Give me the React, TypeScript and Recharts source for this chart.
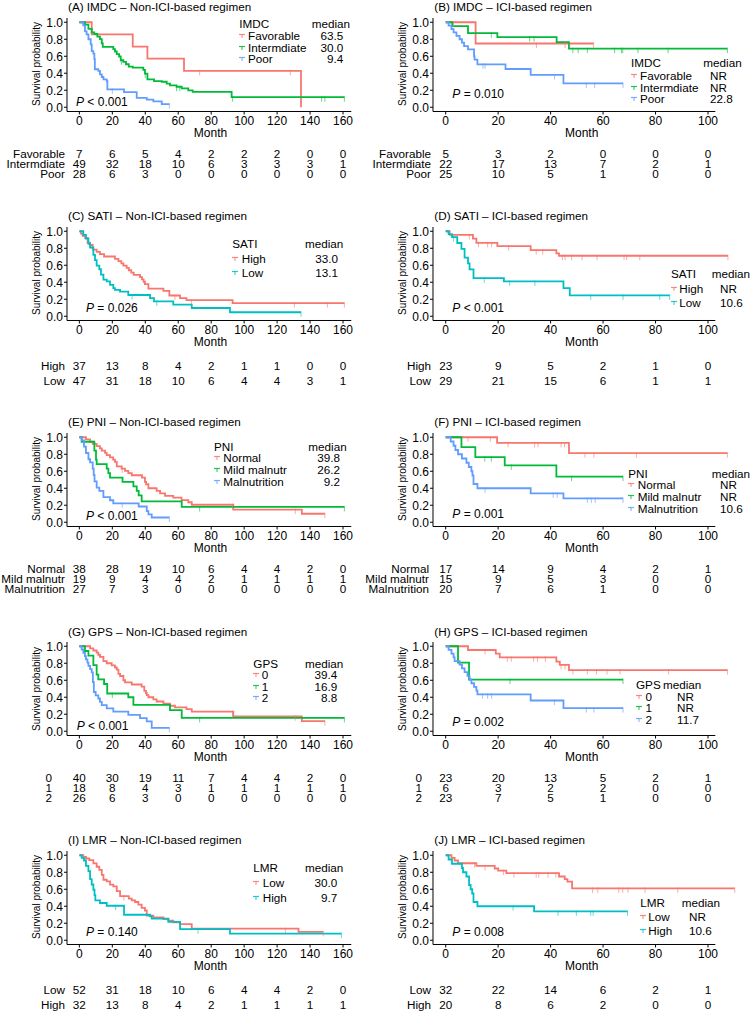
import React from "react";
import { ComposedChart, Line, Scatter, XAxis, YAxis, ReferenceLine } from "recharts";

type Pt = [number, number];

const RED = "#F8766D";
const GREEN = "#00BA38";
const BLUE = "#619CFF";
const CYAN = "#00BFC4";
const FONT = '"Liberation Sans", Arial, sans-serif';

// ---------- group names ----------
const imdcGroups = ["Favorable", "Intermdiate", "Poor"];
const satiGroups = ["High", "Low"];
const pniGroups = ["Normal", "Mild malnutr", "Malnutrition"];
const gpsGroups = ["0", "1", "2"];
const lmrGroups = ["Low", "High"];

const nonIciTimes = [0, 20, 40, 60, 80, 100, 120, 140, 160];
const iciTimes = [0, 20, 40, 60, 80, 100];
const survTicks = [0, 0.2, 0.4, 0.6, 0.8, 1.0];

// ---------- (A) IMDC non-ICI ----------
const aFav: Pt[] = [[0, 1], [7.5, 0.857], [32.4, 0.714], [41.3, 0.571], [63.5, 0.429], [134.5, 0]];
const aInt: Pt[] = [[0, 1], [3.4, 0.972], [5.5, 0.921], [7.5, 0.881], [9.1, 0.862], [10.9, 0.83], [12.5, 0.802], [13.6, 0.751], [14.2, 0.711], [20.6, 0.684], [21.6, 0.656], [22.7, 0.625], [24.1, 0.597], [25.1, 0.553], [26.7, 0.534], [28.3, 0.506], [30, 0.478], [32.4, 0.466], [38.8, 0.439], [39.8, 0.395], [41.3, 0.328], [45.3, 0.308], [50, 0.3], [53, 0.277], [55, 0.257], [59, 0.241], [62.1, 0.221], [66.1, 0.198], [68.8, 0.182], [92.4, 0.119], [160.8, 0.119]];
const aPoor: Pt[] = [[0, 1], [2.4, 0.964], [3.4, 0.893], [4.4, 0.857], [5.5, 0.8], [6.9, 0.74], [7.5, 0.66], [8.5, 0.63], [9.1, 0.565], [9.4, 0.447], [11.5, 0.427], [12.5, 0.387], [13.6, 0.356], [14.6, 0.328], [16.6, 0.308], [17, 0.21], [27.1, 0.178], [34.8, 0.11], [40.9, 0.09], [44.9, 0.07], [50, 0.036], [54.6, 0.036]];
const aFavCens = [73, 128];
const aIntCens = [25.5, 40, 59, 61, 93, 147, 149, 160.8];
const aPoorCens = [20, 54.6];
const aMedians = ["63.5", "30.0", "9.4"];
const aRisk = [[7, 6, 5, 4, 2, 2, 2, 0, 0], [49, 32, 18, 10, 6, 3, 3, 3, 1], [28, 6, 3, 0, 0, 0, 0, 0, 0]];

// ---------- (B) IMDC ICI ----------
const bFav: Pt[] = [[0, 1], [11.4, 0.75], [56.4, 0.75]];
const bInt: Pt[] = [[0, 1], [2.5, 0.955], [8.5, 0.872], [19.7, 0.825], [42.3, 0.767], [47, 0.689], [107.4, 0.689]];
const bPoor: Pt[] = [[0, 1], [1.1, 0.96], [2.2, 0.92], [3, 0.88], [4.1, 0.84], [5.3, 0.8], [6.2, 0.76], [7, 0.72], [8.5, 0.68], [10.8, 0.6], [11, 0.56], [12.1, 0.505], [22.8, 0.45], [32.4, 0.38], [44.9, 0.28], [67.6, 0.28]];
const bFavCens = [3, 34.6, 45.5, 47.3, 56.4];
const bIntCens = [17.4, 32, 33.7, 48.5, 50.5, 54, 64.4, 67, 67.5, 73.3, 84.8, 107.4];
const bPoorCens = [14.2, 15, 41.5, 53.6, 56.8, 67.6];
const bMedians = ["NR", "NR", "22.8"];
const bRisk = [[5, 3, 2, 0, 0, 0], [22, 17, 13, 7, 2, 1], [25, 10, 5, 1, 0, 0]];

// ---------- (C) SATI non-ICI ----------
const cHigh: Pt[] = [[0, 1], [1, 0.973], [2, 0.946], [3.5, 0.919], [5, 0.865], [6.5, 0.838], [8.1, 0.784], [10.5, 0.757], [12.5, 0.73], [15, 0.703], [21.6, 0.676], [23.7, 0.649], [25.5, 0.622], [26.7, 0.595], [28.7, 0.568], [30, 0.541], [31.5, 0.514], [33, 0.487], [36.8, 0.46], [38, 0.433], [39, 0.406], [39.8, 0.379], [41.9, 0.325], [51, 0.298], [54.6, 0.244], [61.1, 0.214], [65, 0.19], [93, 0.155], [160.8, 0.155]];
const cLow: Pt[] = [[0, 1], [2.4, 0.957], [4, 0.915], [5.5, 0.851], [6.5, 0.809], [8.5, 0.723], [9.5, 0.66], [10.5, 0.596], [12.1, 0.553], [13.1, 0.489], [14.6, 0.43], [16.6, 0.41], [18.6, 0.37], [20.6, 0.33], [21.6, 0.31], [24.7, 0.29], [29.7, 0.25], [42.9, 0.214], [45.3, 0.175], [57, 0.136], [68.2, 0.097], [91.4, 0.047], [134.5, 0.047]];
const cHighCens = [58, 68, 130.5, 150.5, 160.8];
const cLowCens = [32, 47, 134.5];
const cMedians = ["33.0", "13.1"];
const cRisk = [[37, 13, 8, 4, 2, 1, 1, 0, 0], [47, 31, 18, 10, 6, 4, 4, 3, 1]];

// ---------- (D) SATI ICI ----------
const dHigh: Pt[] = [[0, 1], [1.5, 0.957], [10.4, 0.913], [11.7, 0.864], [19.7, 0.825], [32.4, 0.778], [42.2, 0.74], [43.2, 0.712], [107.6, 0.712]];
const dLow: Pt[] = [[0, 1], [1.1, 0.966], [2.4, 0.931], [4.4, 0.862], [6, 0.793], [7.2, 0.69], [8.5, 0.621], [9.1, 0.552], [10.6, 0.448], [22.2, 0.41], [44.9, 0.33], [47.3, 0.245], [85.4, 0.245]];
const dHighCens = [9, 12.5, 16, 17.5, 24, 34.5, 37, 44.5, 45.5, 48, 52, 57.7, 68, 69, 74, 107.6];
const dLowCens = [3, 14.7, 24.4, 34, 55.3, 67.6, 81.6, 85.4];
const dMedians = ["NR", "10.6"];
const dRisk = [[23, 9, 5, 2, 1, 0], [29, 21, 15, 6, 1, 1]];

// ---------- (E) PNI non-ICI ----------
const eNormal: Pt[] = [[0, 1], [4, 0.974], [6.5, 0.947], [8.1, 0.921], [10.5, 0.895], [12.5, 0.868], [13.6, 0.842], [15.6, 0.816], [16.6, 0.789], [18.6, 0.763], [20.5, 0.737], [21.6, 0.71], [22.7, 0.658], [25.7, 0.632], [27.7, 0.605], [29.7, 0.579], [31.8, 0.553], [38, 0.526], [39.8, 0.474], [40.5, 0.447], [41.9, 0.4], [46.9, 0.37], [49, 0.34], [52, 0.31], [57, 0.29], [62, 0.26], [66.1, 0.235], [68.2, 0.206], [93.4, 0.148], [135, 0.1], [149, 0.1]];
const eMild: Pt[] = [[0, 1], [1.4, 0.947], [9.1, 0.842], [10.1, 0.737], [10.5, 0.684], [16.6, 0.632], [17.6, 0.579], [18.6, 0.526], [26.2, 0.474], [32.8, 0.421], [34.8, 0.368], [36, 0.316], [37.8, 0.246], [62.1, 0.18], [160.8, 0.18]];
const eMal: Pt[] = [[0, 1], [1.4, 0.963], [2.8, 0.889], [4, 0.815], [5.5, 0.741], [6.5, 0.704], [8.1, 0.63], [8.7, 0.556], [9.2, 0.481], [10.5, 0.407], [12.1, 0.37], [14.6, 0.296], [18.6, 0.259], [20.6, 0.222], [36, 0.185], [40.9, 0.13], [41.9, 0.093], [43.9, 0.056], [54.6, 0.056]];
const eNormalCens = [26, 93, 131, 149];
const eMildCens = [73, 160.8];
const eMalCens = [26, 54.6];
const eMedians = ["39.8", "26.2", "9.2"];
const eRisk = [[38, 28, 19, 10, 6, 4, 4, 2, 0], [19, 9, 4, 4, 2, 1, 1, 1, 1], [27, 7, 3, 0, 0, 0, 0, 0, 0]];

// ---------- (F) PNI ICI ----------
const fNormal: Pt[] = [[0, 1], [19.6, 0.934], [47, 0.813], [107.4, 0.813]];
const fMild: Pt[] = [[0, 1], [6, 0.883], [11.3, 0.767], [22.5, 0.669], [42.2, 0.537], [67.6, 0.537]];
const fMal: Pt[] = [[0, 1], [1.9, 0.95], [3, 0.9], [3.7, 0.85], [4.7, 0.8], [6.2, 0.75], [7.9, 0.7], [8.8, 0.65], [9.8, 0.6], [10.2, 0.55], [10.6, 0.45], [12.1, 0.4], [32.4, 0.34], [44.9, 0.28], [67.6, 0.28]];
const fNormalCens = [8.5, 17, 23.8, 33.9, 35.2, 44, 45.3, 53.1, 56.5, 72.7, 107.4];
const fMildCens = [14.9, 17.4, 25, 48, 67.6];
const fMalCens = [15, 41, 42.5, 54, 55.5, 57, 67.6];
const fMedians = ["NR", "NR", "10.6"];
const fRisk = [[17, 14, 9, 4, 2, 1], [15, 9, 5, 3, 0, 0], [20, 7, 6, 1, 0, 0]];

// ---------- (G) GPS non-ICI ----------
const gZero: Pt[] = [[0, 1], [6.5, 0.975], [8.5, 0.95], [10.5, 0.925], [11.5, 0.9], [12.5, 0.875], [14.6, 0.825], [16.6, 0.8], [19.6, 0.775], [21.6, 0.75], [22.7, 0.725], [23.7, 0.675], [24.7, 0.65], [26.7, 0.6], [27.7, 0.575], [31.8, 0.55], [37.8, 0.525], [39.4, 0.475], [40.4, 0.45], [40.9, 0.425], [41.9, 0.4], [44.9, 0.375], [46.9, 0.35], [51, 0.325], [55, 0.3], [58, 0.28], [65, 0.26], [68.2, 0.23], [93.4, 0.176], [135, 0.118], [149, 0.118]];
const gOne: Pt[] = [[0, 1], [3.4, 0.944], [5.5, 0.889], [8.5, 0.778], [10.5, 0.667], [11.5, 0.611], [15, 0.556], [16.9, 0.444], [29.7, 0.4], [32.8, 0.311], [55, 0.249], [62.1, 0.157], [160.8, 0.157]];
const gTwo: Pt[] = [[0, 1], [1.4, 0.962], [2.4, 0.923], [3.4, 0.885], [4, 0.846], [4.9, 0.808], [5.5, 0.769], [6.5, 0.731], [7.5, 0.692], [8.2, 0.577], [8.8, 0.462], [9.9, 0.423], [11.5, 0.385], [12.5, 0.346], [13.6, 0.308], [16.6, 0.269], [20.6, 0.231], [29.7, 0.192], [36.8, 0.154], [40.9, 0.115], [43.9, 0.04], [54.6, 0.04]];
const gZeroCens = [93, 131, 149];
const gOneCens = [20, 73, 160.8];
const gTwoCens = [54.6];
const gMedians = ["39.4", "16.9", "8.8"];
const gRisk = [[40, 30, 19, 11, 7, 4, 4, 2, 0], [18, 8, 4, 3, 1, 1, 1, 1, 1], [26, 6, 3, 0, 0, 0, 0, 0, 0]];

// ---------- (H) GPS ICI ----------
const hZero: Pt[] = [[0, 1], [8.5, 0.956], [19.1, 0.913], [20.6, 0.87], [42.2, 0.82], [43.5, 0.78], [47, 0.72], [107.4, 0.72]];
const hOne: Pt[] = [[0, 1], [4.7, 0.808], [8.9, 0.608], [67.6, 0.608]];
const hTwo: Pt[] = [[0, 1], [1.1, 0.957], [2.2, 0.913], [3, 0.87], [3.4, 0.826], [5.3, 0.783], [6.2, 0.739], [7.2, 0.696], [8.3, 0.652], [9.1, 0.609], [9.8, 0.565], [10.8, 0.522], [11.7, 0.478], [12.1, 0.435], [32.4, 0.362], [44.9, 0.272], [67.6, 0.272]];
const hZeroCens = [15, 23.5, 25, 33.5, 35, 38, 44, 45.5, 48.5, 54, 57.5, 61.5, 66.5, 85, 107.4];
const hOneCens = [24.5, 67.6];
const hTwoCens = [14, 16, 17.5, 41.5, 53.6, 56.5, 67.6];
const hMedians = ["NR", "NR", "11.7"];
const hRisk = [[23, 20, 13, 5, 2, 1], [6, 3, 2, 2, 0, 0], [23, 7, 5, 1, 0, 0]];

// ---------- (I) LMR non-ICI ----------
const iLow: Pt[] = [[0, 1], [2.4, 0.981], [4, 0.962], [6, 0.942], [8.5, 0.904], [10.5, 0.865], [12.1, 0.827], [13.6, 0.769], [14.6, 0.712], [16.6, 0.692], [18.6, 0.654], [20.6, 0.635], [22.7, 0.577], [24.7, 0.519], [30, 0.49], [31.8, 0.47], [33.8, 0.45], [35.8, 0.42], [37.8, 0.38], [39.8, 0.35], [40.9, 0.29], [44.9, 0.27], [51, 0.25], [54, 0.23], [57, 0.21], [61, 0.19], [68.2, 0.137], [133, 0.098], [148, 0.098]];
const iHigh: Pt[] = [[0, 1], [1.4, 0.969], [2.8, 0.938], [4, 0.875], [5.5, 0.813], [6.5, 0.719], [7.5, 0.656], [8.5, 0.594], [9.2, 0.531], [9.7, 0.469], [12.5, 0.438], [16.6, 0.406], [27.1, 0.3], [42.9, 0.28], [43.9, 0.255], [54, 0.216], [61.1, 0.13], [91.4, 0.078], [159, 0.078]];
const iLowCens = [27, 125, 148];
const iHighCens = [22, 72, 159];
const iMedians = ["30.0", "9.7"];
const iRisk = [[52, 31, 18, 10, 6, 4, 4, 2, 0], [32, 13, 8, 4, 2, 1, 1, 1, 1]];

// ---------- (J) LMR ICI ----------
const jLow: Pt[] = [[0, 1], [2.2, 0.969], [3.4, 0.938], [4.7, 0.906], [11.7, 0.875], [18.7, 0.844], [20, 0.82], [23.1, 0.79], [43.2, 0.75], [45.4, 0.72], [46.4, 0.69], [48.2, 0.61], [110.2, 0.61]];
const jHigh: Pt[] = [[0, 1], [1.1, 0.95], [2.4, 0.9], [6.2, 0.85], [6.6, 0.8], [7.9, 0.75], [8.9, 0.65], [9.5, 0.6], [10.1, 0.55], [10.6, 0.45], [12.1, 0.4], [33.7, 0.34], [69.3, 0.34]];
const jLowCens = [11, 15, 22, 26, 34.5, 35.5, 39, 42, 56, 58, 66, 67.5, 69.5, 76, 88.5, 110.2];
const jHighCens = [25.7, 42.8, 49.8, 55.3, 56.2, 69.3];
const jMedians = ["NR", "10.6"];
const jRisk = [[32, 22, 14, 6, 2, 1], [20, 8, 6, 2, 0, 0]];

// ---------- layout ----------
const ROW_TOP = [17.5, 226.7, 432.7, 642.4, 850.7];
const PLOT_H = 93.5;
const AXW = 40;
const XAXH = 20;
const TOPPAD = 8;
const RISKPAD = 8;
const TITLE_FS = 11.7;
const LEG_FS = 11.7;
const RISK_FS = 11.7;

const LEFT = { plotLeft: 67, domain: [-7.5, 165], axisEnd: 165, ppm: 1.648, times: nonIciTimes, monthX: 210.5 };
const RIGHT = { plotLeft: 433.3, domain: [-4.84, 111], axisEnd: 102.8, ppm: 2.623, times: iciTimes, monthX: 581.7 };

type Anchor = "start" | "end" | "middle";
interface LegendCfg { keyX: number; headY: number; rows: number[]; labelX: number; med: [number, Anchor]; val: [number, Anchor]; }

const panels = [
  { title: "(A) IMDC – Non-ICI-based regimen", side: LEFT, row: 0, group: "IMDC", labels: imdcGroups, colors: [RED, GREEN, BLUE], curves: [aFav, aInt, aPoor], cens: [aFavCens, aIntCens, aPoorCens], medians: aMedians, p: "< 0.001", pPos: [76, 84.2], risk: aRisk, gap: 2,
    legend: { keyX: 239.3, headY: 6.5, rows: [18.2, 30.2, 41.8], labelX: 248, med: [350, "end"], val: [343.3, "end"] } },
  { title: "(B) IMDC – ICI-based regimen", side: RIGHT, row: 0, group: "IMDC", labels: imdcGroups, colors: [RED, GREEN, BLUE], curves: [bFav, bInt, bPoor], cens: [bFavCens, bIntCens, bPoorCens], medians: bMedians, p: "= 0.010", pPos: [452.3, 76.8], risk: bRisk, gap: 2,
    legend: { keyX: 631, headY: 45.8, rows: [58.5, 70.5, 81.8], labelX: 640, med: [741.7, "end"], val: [710, "start"] } },
  { title: "(C) SATI – Non-ICI-based regimen", side: LEFT, row: 1, group: "SATI", labels: satiGroups, colors: [RED, CYAN], curves: [cHigh, cLow], cens: [cHighCens, cLowCens], medians: cMedians, p: "= 0.026", pPos: [86, 81.6], risk: cRisk, gap: 2,
    legend: { keyX: 232.3, headY: 17.3, rows: [32.3, 46.6], labelX: 241.7, med: [343.3, "end"], val: [338, "end"] } },
  { title: "(D) SATI – ICI-based regimen", side: RIGHT, row: 1, group: "SATI", labels: satiGroups, colors: [RED, CYAN], curves: [dHigh, dLow], cens: [dHighCens, dLowCens], medians: dMedians, p: "< 0.001", pPos: [452.3, 81], risk: dRisk, gap: 2,
    legend: { keyX: 671, headY: 47.6, rows: [62.3, 76.6], labelX: 679.3, med: [750, "end"], val: [720, "start"] } },
  { title: "(E) PNI – Non-ICI-based regimen", side: LEFT, row: 2, group: "PNI", labels: pniGroups, colors: [RED, GREEN, BLUE], curves: [eNormal, eMild, eMal], cens: [eNormalCens, eMildCens, eMalCens], medians: eMedians, p: "< 0.001", pPos: [86, 83], risk: eRisk, gap: 2,
    legend: { keyX: 214, headY: 14.6, rows: [25.6, 37.6, 49.6], labelX: 223.3, med: [346.7, "end"], val: [340, "end"] } },
  { title: "(F) PNI – ICI-based regimen", side: RIGHT, row: 2, group: "PNI", labels: pniGroups, colors: [RED, GREEN, BLUE], curves: [fNormal, fMild, fMal], cens: [fNormalCens, fMildCens, fMalCens], medians: fMedians, p: "= 0.001", pPos: [452.3, 81.3], risk: fRisk, gap: 4,
    legend: { keyX: 628.3, headY: 41, rows: [52.3, 64, 76.3], labelX: 637.7, med: [750, "end"], val: [720, "start"] } },
  { title: "(G) GPS – Non-ICI-based regimen", side: LEFT, row: 3, group: "GPS", labels: gpsGroups, colors: [RED, GREEN, BLUE], curves: [gZero, gOne, gTwo], cens: [gZeroCens, gOneCens, gTwoCens], medians: gMedians, p: "< 0.001", pPos: [76.7, 83.6], risk: gRisk, gap: 15,
    legend: { keyX: 253.3, headY: 21.6, rows: [32.6, 44.3, 55.9], labelX: 261.7, med: [343.3, "end"], val: [337.3, "end"] } },
  { title: "(H) GPS – ICI-based regimen", side: RIGHT, row: 3, group: "GPS", labels: gpsGroups, colors: [RED, GREEN, BLUE], curves: [hZero, hOne, hTwo], cens: [hZeroCens, hOneCens, hTwoCens], medians: hMedians, p: "= 0.002", pPos: [452.3, 79.3], risk: hRisk, gap: 11,
    legend: { keyX: 636, headY: 42.6, rows: [54.3, 65.9, 77.6], labelX: 645.5, med: [663, "start"], val: [677, "start"] } },
  { title: "(I) LMR – Non-ICI-based regimen", side: LEFT, row: 4, group: "LMR", labels: lmrGroups, colors: [RED, CYAN], curves: [iLow, iHigh], cens: [iLowCens, iHighCens], medians: iMedians, p: "= 0.140", pPos: [86, 81], risk: iRisk, gap: 2,
    legend: { keyX: 253.3, headY: 17.6, rows: [32.6, 47], labelX: 262.7, med: [343.3, "end"], val: [337.3, "end"] } },
  { title: "(J) LMR – ICI-based regimen", side: RIGHT, row: 4, group: "LMR", labels: lmrGroups, colors: [RED, CYAN], curves: [jLow, jHigh], cens: [jLowCens, jHighCens], medians: jMedians, p: "= 0.008", pPos: [452.3, 81], risk: jRisk, gap: 2,
    legend: { keyX: 640.3, headY: 52, rows: [66, 80.3], labelX: 648.3, med: [720, "end"], val: [689, "start"] } },
];

// value of the step curve at time t (for placing censor ticks)
const survAt = (curve: Pt[], t: number) => {
  let s = curve[0][1];
  for (const [ct, cs] of curve) {
    if (ct <= t) s = cs;
    else break;
  }
  return s;
};

function Txt({ x, y, anchor = "start", size = LEG_FS, children }: { x: number; y: number; anchor?: Anchor; size?: number; children: React.ReactNode }) {
  const w = 300;
  const left = anchor === "start" ? x : anchor === "end" ? x - w : x - w / 2;
  return (
    <div
      style={{
        position: "absolute",
        left,
        top: y - 8,
        width: w,
        height: 16,
        lineHeight: "16px",
        fontSize: size,
        textAlign: anchor === "start" ? "left" : anchor === "end" ? "right" : "center",
        whiteSpace: "nowrap",
        color: "#000",
      }}
    >
      {children}
    </div>
  );
}

const censorShape = (color: string) => (props: any) => {
  const { cx, cy } = props;
  if (cx == null || cy == null) return <g />;
  return <line x1={cx} x2={cx} y1={cy - 1} y2={cy + 4.5} stroke={color} strokeOpacity={0.6} strokeWidth={1} />;
};

const riskShape = (props: any) => {
  const { cx, cy, payload } = props;
  if (cx == null || cy == null) return <g />;
  return (
    <text x={cx} y={cy} dy="0.36em" textAnchor="middle" fontSize={RISK_FS} fill="#000">
      {payload.n}
    </text>
  );
};

function Panel({ cfg }: { cfg: (typeof panels)[number] }) {
  const { side } = cfg;
  const P = ROW_TOP[cfg.row];
  const plotW = (side.domain[1] - side.domain[0]) * side.ppm;
  const lg = cfg.legend as LegendCfg;
  const nRows = cfg.risk.length;
  const riskTop = nRows === 3 ? P + 131 : P + 131.5;
  const RISKW = 110;
  const riskCells = cfg.risk.flatMap((row, r) => row.map((n, k) => ({ t: side.times[k], r, n })));

  return (
    <>
      <Txt x={side.plotLeft + 1} y={P - 10.5} size={TITLE_FS}>{cfg.title}</Txt>
      <div
        style={{
          position: "absolute",
          left: side.plotLeft - 30.3 - 60,
          top: P + PLOT_H / 2 - 7,
          width: 120,
          height: 14,
          lineHeight: "14px",
          fontSize: 10,
          textAlign: "center",
          transform: "rotate(-90deg)",
          whiteSpace: "nowrap",
        }}
      >
        Survival probability
      </div>
      <div style={{ position: "absolute", left: side.plotLeft - AXW, top: P - TOPPAD }}>
        <ComposedChart width={AXW + plotW + 10} height={TOPPAD + PLOT_H + XAXH} margin={{ top: TOPPAD, right: 10, bottom: 0, left: 0 }}>
          <XAxis
            type="number"
            dataKey="t"
            domain={side.domain}
            ticks={side.times}
            allowDataOverflow
            interval={0}
            axisLine={false}
            tickLine={{ stroke: "#000" }}
            tickSize={3}
            tickMargin={2}
            height={XAXH}
            tick={{ fontSize: 12, fill: "#000" }}
          />
          <YAxis
            type="number"
            dataKey="s"
            domain={[-0.05, 1.05]}
            ticks={survTicks}
            allowDataOverflow
            interval={0}
            width={AXW}
            tickSize={3}
            tickMargin={1}
            tickFormatter={(v: number) => v.toFixed(1)}
            axisLine={{ stroke: "#000" }}
            tickLine={{ stroke: "#000" }}
            tick={{ fontSize: 12, fill: "#000" }}
          />
          <ReferenceLine
            segment={[{ x: side.domain[0], y: -0.05 }, { x: side.axisEnd, y: -0.05 }]}
            stroke="#000"
            strokeWidth={1}
            ifOverflow="visible"
          />
          {cfg.curves.map((c, i) => (
            <Line
              key={`l${i}`}
              data={c.map(([t, s]) => ({ t, s }))}
              dataKey="s"
              type="stepAfter"
              stroke={cfg.colors[i]}
              strokeWidth={1.8}
              dot={false}
              activeDot={false}
              isAnimationActive={false}
            />
          ))}
          {cfg.cens.map((ts, i) => (
            <Scatter
              key={`c${i}`}
              data={ts.map((t) => ({ t, s: survAt(cfg.curves[i], t) }))}
              shape={censorShape(cfg.colors[i])}
              isAnimationActive={false}
            />
          ))}
        </ComposedChart>
      </div>

      {/* legend */}
      <Txt x={lg.keyX} y={P + lg.headY}>{cfg.group}</Txt>
      <Txt x={lg.med[0]} y={P + lg.headY} anchor={lg.med[1]}>median</Txt>
      {cfg.labels.map((lab, i) => (
        <React.Fragment key={lab}>
          <svg style={{ position: "absolute", left: lg.keyX, top: P + lg.rows[i] - 4 }} width={8} height={8}>
            <line x1={0} x2={6} y1={2.5} y2={2.5} stroke={cfg.colors[i]} strokeWidth={1.2} strokeOpacity={0.85} />
            <line x1={3} x2={3} y1={2.5} y2={6} stroke={cfg.colors[i]} strokeWidth={1} strokeOpacity={0.85} />
          </svg>
          <Txt x={lg.labelX} y={P + lg.rows[i]}>{lab}</Txt>
          <Txt x={lg.val[0]} y={P + lg.rows[i]} anchor={lg.val[1]}>{cfg.medians[i]}</Txt>
        </React.Fragment>
      ))}

      <Txt x={cfg.pPos[0]} y={P + cfg.pPos[1]} size={12}>
        <i>P</i> {cfg.p}
      </Txt>
      <Txt x={side.monthX} y={P + 115} anchor="middle" size={12}>Month</Txt>

      {/* number at risk */}
      <div style={{ position: "absolute", left: side.plotLeft - RISKW, top: riskTop - RISKPAD }}>
        <ComposedChart width={RISKW + plotW + 10} height={30 + 2 * RISKPAD} margin={{ top: RISKPAD, right: 10, bottom: RISKPAD, left: 0 }}>
          <XAxis type="number" dataKey="t" domain={side.domain} allowDataOverflow hide />
          <YAxis
            type="number"
            dataKey="r"
            domain={[-0.5, nRows - 0.5]}
            reversed
            allowDataOverflow
            ticks={cfg.labels.map((_, i) => i)}
            interval={0}
            tickFormatter={(i: number) => cfg.labels[i] ?? ""}
            width={RISKW}
            axisLine={false}
            tickLine={false}
            tickSize={0}
            tickMargin={cfg.gap}
            tick={{ fontSize: RISK_FS, fill: "#000" }}
          />
          <Scatter data={riskCells} shape={riskShape} isAnimationActive={false} />
        </ComposedChart>
      </div>
    </>
  );
}

export default function App() {
  return (
    <div
      style={{
        position: "absolute",
        left: 0,
        top: 0,
        width: 750,
        height: 1011,
        overflow: "hidden",
        background: "#fff",
        fontFamily: FONT,
        color: "#000",
      }}
    >
      {panels.map((p) => (
        <Panel key={p.title} cfg={p} />
      ))}
    </div>
  );
}
